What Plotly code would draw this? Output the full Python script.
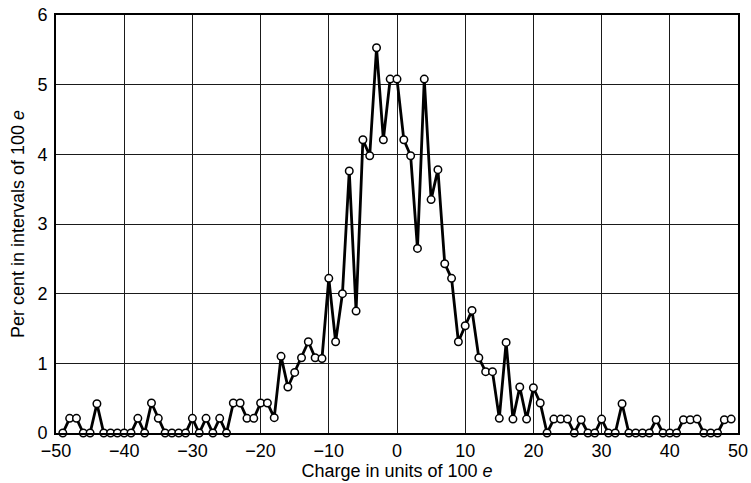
import plotly.graph_objects as go

# Charge bins (units of 100 e) and percentage of events in each bin
charge = list(range(-49, 50))
percent = [
    0.00, 0.21, 0.21, 0.00, 0.00, 0.42, 0.00, 0.00, 0.00, 0.00,   # -49 .. -40
    0.00, 0.21, 0.00, 0.43, 0.21, 0.00, 0.00, 0.00, 0.00, 0.21,   # -39 .. -30
    0.00, 0.21, 0.00, 0.21, 0.00, 0.43, 0.43, 0.21, 0.21, 0.43,   # -29 .. -20
    0.43, 0.22, 1.10, 0.66, 0.87, 1.08, 1.31, 1.08, 1.07, 2.22,   # -19 .. -10
    1.31, 2.00, 3.76, 1.75, 4.21, 3.98, 5.53, 4.21, 5.08, 5.08,   # -9 .. 0
    4.21, 3.98, 2.65, 5.08, 3.35, 3.78, 2.43, 2.22, 1.31, 1.54,   # 1 .. 10
    1.76, 1.08, 0.88, 0.88, 0.21, 1.30, 0.20, 0.66, 0.20, 0.65,   # 11 .. 20
    0.43, 0.00, 0.20, 0.20, 0.20, 0.00, 0.19, 0.00, 0.00, 0.20,   # 21 .. 30
    0.00, 0.00, 0.42, 0.00, 0.00, 0.00, 0.00, 0.19, 0.00, 0.00,   # 31 .. 40
    0.00, 0.19, 0.19, 0.20, 0.00, 0.00, 0.00, 0.19, 0.20,         # 41 .. 49
]

x_ticks = list(range(-50, 51, 10))
y_ticks = list(range(0, 7))

font_family = "Liberation Sans, Arial, sans-serif"

fig = go.Figure()
fig.add_trace(go.Scatter(
    x=charge,
    y=percent,
    mode="lines+markers",
    line=dict(color="black", width=2.8),
    marker=dict(symbol="circle", size=7.5, color="white",
                line=dict(color="black", width=1.5)),
    cliponaxis=False,
    showlegend=False,
))

axis_common = dict(
    showline=True,
    linecolor="black",
    linewidth=2,
    mirror=True,
    showgrid=True,
    gridcolor="#1a1a1a",
    gridwidth=1,
    zeroline=False,
    ticks="",
    automargin=False,
    tickfont=dict(family=font_family, size=18, color="black"),
)

fig.update_xaxes(
    range=[-50, 50],
    tickvals=x_ticks,
    title=dict(text="Charge in units of 100 <i>e</i>",
               font=dict(family=font_family, size=18, color="black"),
               standoff=2),
    ticklabelstandoff=0,
    **axis_common,
)
fig.update_yaxes(
    range=[0, 6],
    tickvals=y_ticks,
    title=dict(text="Per cent in intervals of 100 <i>e</i>",
               font=dict(family=font_family, size=18, color="black"),
               standoff=8),
    ticklabelstandoff=3,
    **axis_common,
)

fig.update_layout(
    width=751,
    height=483,
    margin=dict(l=56, r=13, t=15, b=50),
    paper_bgcolor="white",
    plot_bgcolor="white",
)

fig.write_html("out.html")
